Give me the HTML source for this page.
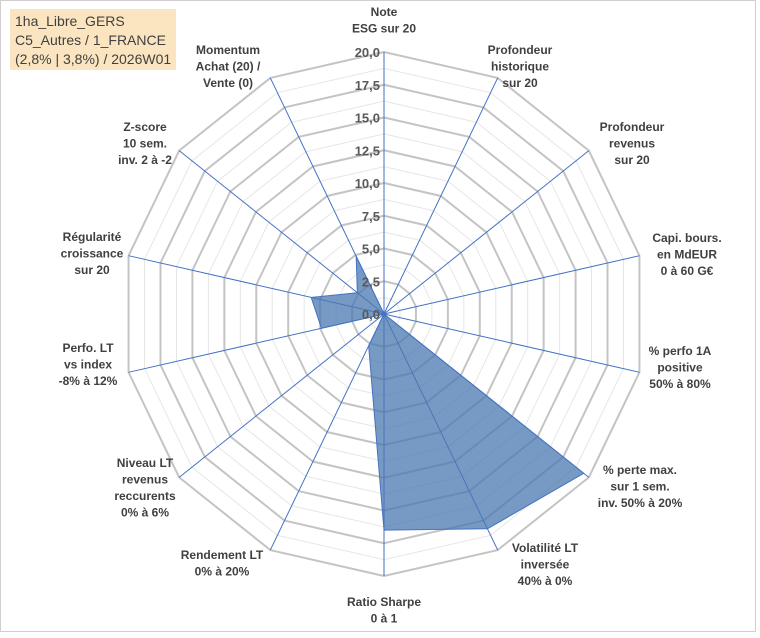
<!DOCTYPE html>
<html><head><meta charset="utf-8"><style>
body{margin:0;background:#fff;}
svg text{font-family:"Liberation Sans",Arial,sans-serif;}
</style></head><body>
<svg id="chart" width="760" height="633" viewBox="0 0 760 633" xmlns="http://www.w3.org/2000/svg">
<rect x="0.5" y="0.5" width="755" height="631" fill="#fff" stroke="#d0d0d0"/>
<rect x="10" y="9" width="166" height="61" fill="#fbe5c0"/>
<text x="15" y="26" font-size="14" fill="#404040">1ha_Libre_GERS</text>
<text x="15" y="45" font-size="14" fill="#404040">C5_Autres / 1_FRANCE</text>
<text x="15" y="64" font-size="14" fill="#404040">(2,8% | 3,8%) / 2026W01</text>
<g id="grid"></g><g id="series"></g><g id="labels"></g>
</svg>
<script>
const categories=[["Note","ESG sur 20"],["Profondeur","historique","sur 20"],["Profondeur","revenus","sur 20"],["Capi. bours.","en MdEUR","0 à 60 G€"],["% perfo 1A","positive","50% à 80%"],["% perte max.","sur 1 sem.","inv. 50% à 20%"],["Volatilité LT","inversée","40% à 0%"],["Ratio Sharpe","0 à 1"],["Rendement LT","0% à 20%"],["Niveau LT","revenus","reccurents","0% à 6%"],["Perfo. LT","vs index","-8% à 12%"],["Régularité","croissance","sur 20"],["Z-score","10 sem.","inv. 2 à -2"],["Momentum","Achat (20) /","Vente (0)"]];
const values=[0,0,0,0,0,19.5,18.2,16.5,2.7,0,4.9,5.7,2.6,4.9];
const tickLabels=["0,0","2,5","5,0","7,5","10,0","12,5","15,0","17,5","20,0"];
const maxV=20;
// layout only: label block anchor positions (x center, first line middle y)
const labelPos=[[384,12],[520,50],[632,127],[687,238],[680,351],[640,470],[545,548],[384,602],[222,555],[145,463],[88,348],[92,237],[145,127],[228,50]];
const cx=384,cy=314,R=262,NS="http://www.w3.org/2000/svg";
const n=categories.length;
function ang(i){return i*2*Math.PI/n;}
function pt(i,v){const r=v/maxV*R;return [cx+r*Math.sin(ang(i)),cy-r*Math.cos(ang(i))];}
function mk(t,a,parent){const e=document.createElementNS(NS,t);for(const k in a)e.setAttribute(k,a[k]);parent.appendChild(e);return e;}
const grid=document.getElementById('grid'),ser=document.getElementById('series'),lab=document.getElementById('labels');
for(let s=1;s<=16;s++){const v=s*1.25;const pts=[];for(let i=0;i<n;i++)pts.push(pt(i,v).join(','));
 const e=mk('polygon',{points:pts.join(' '),fill:'none',stroke:s%2?'#e6e6e6':'#c4c4c4','stroke-width':s%2?1:2},grid);
 
 }
for(let i=0;i<n;i++){const p=pt(i,maxV);const e=mk('line',{x1:cx,y1:cy,x2:p[0],y2:p[1],stroke:'#4472c4','stroke-width':1},grid);
 
 }
const sp=values.map((v,i)=>pt(i,v).join(','));
const poly=mk('polygon',{points:sp.join(' '),fill:'#4a78b0','fill-opacity':0.75,stroke:'#4472c4','stroke-width':1},ser);


tickLabels.forEach((t,k)=>{const y=cy-k*2.5/maxV*R;const e=mk('text',{x:cx-4,y:y+5,'text-anchor':'end','font-size':13,'font-weight':'bold',fill:'#595959'},lab);e.textContent=t;
 
 });
categories.forEach((lines,i)=>{const [x,y0]=labelPos[i];const lh=16.5;
 const g=mk('text',{'text-anchor':'middle','font-size':12,'font-weight':'bold',fill:'#404040'},lab);
 
 
 lines.forEach((l,k)=>{const ts=mk('tspan',{x:x,y:y0+4+k*lh},g);ts.textContent=l;});});
</script>
</body></html>
